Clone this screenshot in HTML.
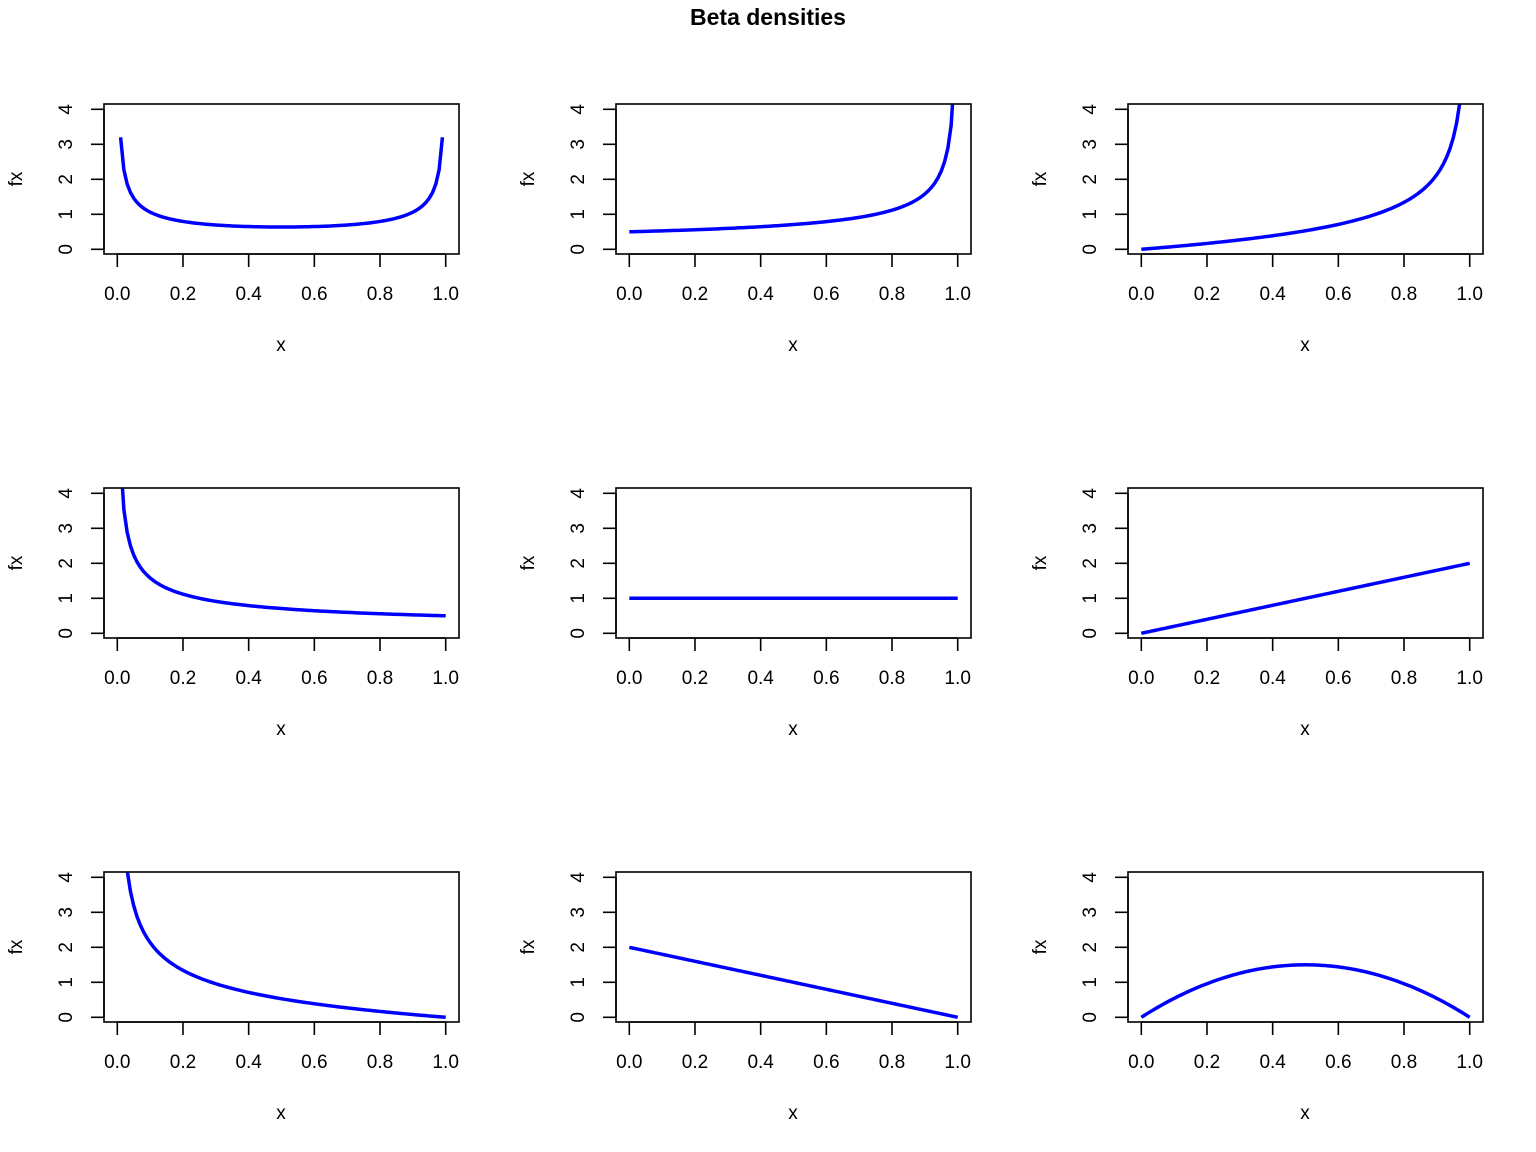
<!DOCTYPE html>
<html><head><meta charset="utf-8"><style>
html,body{margin:0;padding:0;background:#fff;}
svg{display:block;font-family:"Liberation Sans",sans-serif;}
</style></head><body>
<svg id="s" width="1536" height="1152" viewBox="0 0 1536 1152" xmlns="http://www.w3.org/2000/svg">
<rect width="1536" height="1152" fill="#fff"/>
<text x="768" y="25" text-anchor="middle" font-size="23" font-weight="bold">Beta densities</text>
</svg>
<script>
var s=document.getElementById('s');
var NS='http://www.w3.org/2000/svg';
function el(t,a,txt){var e=document.createElementNS(NS,t);for(var k in a)e.setAttribute(k,a[k]);if(txt!==undefined)e.textContent=txt;s.appendChild(e);return e;}
var fs=[
 function(x){return 1/(Math.PI*Math.sqrt(x*(1-x)));},
 function(x){return 0.5/Math.sqrt(1-x);},
 function(x){return 0.75*x/Math.sqrt(1-x);},
 function(x){return 0.5/Math.sqrt(x);},
 function(x){return 1;},
 function(x){return 2*x;},
 function(x){return 0.75*(1-x)/Math.sqrt(x);},
 function(x){return 2*(1-x);},
 function(x){return 6*x*(1-x);}
];
var defs=el('defs',{});
for(var i=0;i<9;i++){
 var c=i%3,r=Math.floor(i/3);
 var L=104+512*c,T=104+384*r,W=355,H=150;
 var x0=117.3+512*c, xs=328.4;
 var y0=249.3+384*r, ys=35;
 var cp=document.createElementNS(NS,'clipPath');cp.setAttribute('id','c'+i);
 var rc=document.createElementNS(NS,'rect');rc.setAttribute('x',L);rc.setAttribute('y',T);rc.setAttribute('width',W);rc.setAttribute('height',H);
 cp.appendChild(rc);defs.appendChild(cp);
 var d='',started=false;
 for(var k=0;k<=100;k++){var x=k/100;var y=fs[i](x);
  if(!isFinite(y)){started=false;continue;}
  var px=x0+x*xs,py=y0-y*ys; if(py<-1000)py=-1000;
  d+=(started?'L':'M')+px.toFixed(2)+' '+py.toFixed(2);started=true;}
 el('path',{d:d,fill:'none',stroke:'#0000ff','stroke-width':3.5,'clip-path':'url(#c'+i+')','stroke-linejoin':'round'});
 el('rect',{x:L,y:T,width:W,height:H,fill:'none',stroke:'#000','stroke-width':1.6});
 el('line',{x1:x0,y1:T+H,x2:x0+xs,y2:T+H,stroke:'#000','stroke-width':1.6});
 for(var t=0;t<=5;t++){var px=x0+t*0.2*xs;
  el('line',{x1:px,y1:T+H,x2:px,y2:T+H+13,stroke:'#000','stroke-width':1.6});
  el('text',{x:px,y:T+H+46,'text-anchor':'middle','font-size':19},(t*0.2).toFixed(1));}
 el('line',{x1:L,y1:y0,x2:L,y2:y0-4*ys,stroke:'#000','stroke-width':1.6});
 for(var t=0;t<=4;t++){var py=y0-t*ys;
  el('line',{x1:L-13,y1:py,x2:L,y2:py,stroke:'#000','stroke-width':1.6});
  el('text',{x:0,y:0,'text-anchor':'middle','font-size':19,transform:'translate('+(L-32)+','+py+') rotate(-90)'},String(t));}
 el('text',{x:L+177,y:T+H+97,'text-anchor':'middle','font-size':19},'x');
 el('text',{x:0,y:0,'text-anchor':'middle','font-size':19,transform:'translate('+(L-82)+','+(T+75)+') rotate(-90)'},'fx');
}
</script>
</body></html>
